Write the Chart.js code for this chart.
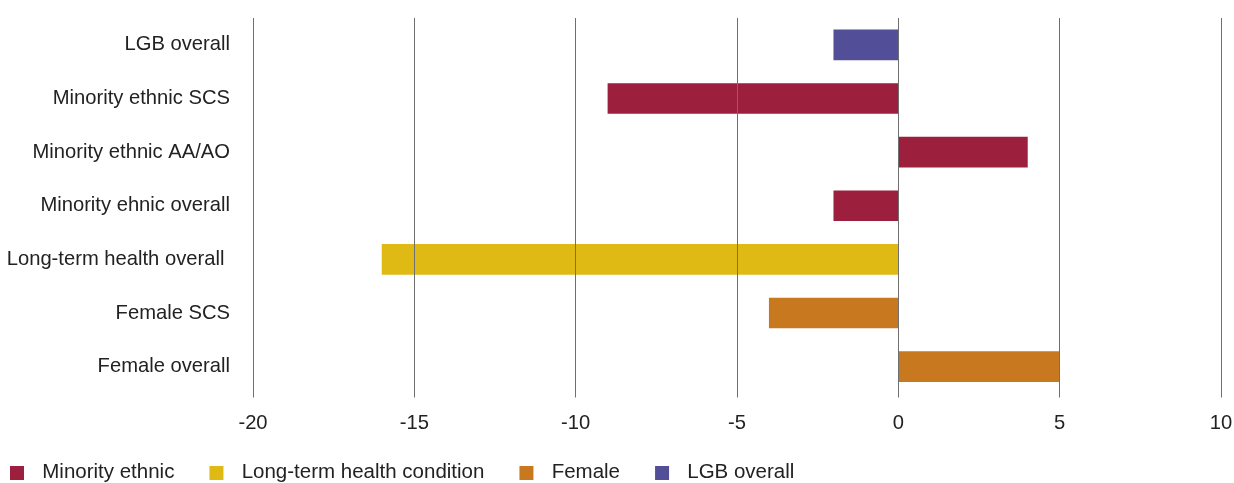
<!DOCTYPE html>
<html>
<head>
<meta charset="utf-8">
<script src="https://cdn.jsdelivr.net/npm/chart.js@4/dist/chart.umd.min.js"></script>
<style>
  html, body { margin: 0; padding: 0; background: #fff; overflow: hidden; }
  #wrap { width: 1234px; height: 483px; }
</style>
</head>
<body>
<div id="wrap"><canvas id="myChart"></canvas></div>
<script>
const categories = [
  "LGB overall",
  "Minority ethnic SCS",
  "Minority ethnic AA/AO",
  "Minority ehnic overall",
  "Long-term health overall ",
  "Female SCS",
  "Female overall",
];

// one series per group, null where the row belongs to another group
const minorityEthnic = [null, -9, 4, -2, null, null, null];
const longTermHealth = [null, null, null, null, -16, null, null];
const female = [null, null, null, null, null, -4, 5];
const lgbOverall = [-2, null, null, null, null, null, null];

const seriesNames = ["Minority ethnic", "Long-term health condition", "Female", "LGB overall"];
const seriesColors = ["#9c203e", "#dfb914", "#c8791f", "#524e98"];

const xTicks = [-20, -15, -10, -5, 0, 5, 10];

// legend swatch: 14px square with a little space either side
function swatch(color) {
  const c = document.createElement("canvas");
  c.width = 27;
  c.height = 14;
  const g = c.getContext("2d");
  g.fillStyle = color;
  g.fillRect(5, 0, 14, 14);
  return c;
}
const swatches = seriesColors.map(swatch);

const axisFont = { family: "Liberation Sans", size: 20.2 };
const legendFont = { family: "Liberation Sans", size: 20.5 };

const ctx = document.getElementById("myChart").getContext("2d");

const datasets = [minorityEthnic, longTermHealth, female, lgbOverall].map((vals, i) => ({
  label: seriesNames[i],
  data: vals,
  backgroundColor: seriesColors[i],
  borderWidth: 0,
  barThickness: 30,
  grouped: false,
}));

new Chart(ctx, {
  type: "bar",
  data: { labels: categories, datasets: datasets },
  options: {
    indexAxis: "y",
    responsive: true,
    maintainAspectRatio: false,
    animation: false,
    layout: {
      autoPadding: false,
      padding: { top: 18, right: 13, bottom: -10, left: -25 },
    },
    scales: {
      x: {
        min: -20,
        max: 10,
        afterBuildTicks: (scale) => {
          scale.ticks = xTicks.map((v) => ({ value: v }));
        },
        afterFit: (scale) => {
          scale.height = 39;
          scale.paddingLeft = 0;
          scale.paddingRight = 0;
        },
        grid: { color: "#6f6f6f", lineWidth: 1, drawTicks: true, tickLength: 4, z: 1 },
        border: { display: false },
        ticks: { padding: 14, color: "#222", font: axisFont },
      },
      y: {
        grid: { display: false, drawTicks: false },
        border: { display: false },
        afterFit: (scale) => {
          scale.width = 278;
          scale.paddingTop = 0;
          scale.paddingBottom = 0;
        },
        ticks: { padding: 23, color: "#222", font: axisFont },
      },
    },
    plugins: {
      tooltip: { enabled: false },
      legend: {
        position: "bottom",
        align: "start",
        labels: {
          usePointStyle: true,
          pointStyleWidth: 27,
          boxHeight: 14,
          padding: 30,
          color: "#222",
          font: legendFont,
          generateLabels: (chart) => {
            const items = Chart.defaults.plugins.legend.labels.generateLabels(chart);
            items.forEach((it, i) => {
              it.pointStyle = swatches[i];
            });
            return items;
          },
        },
      },
    },
  },
});
</script>
</body>
</html>
